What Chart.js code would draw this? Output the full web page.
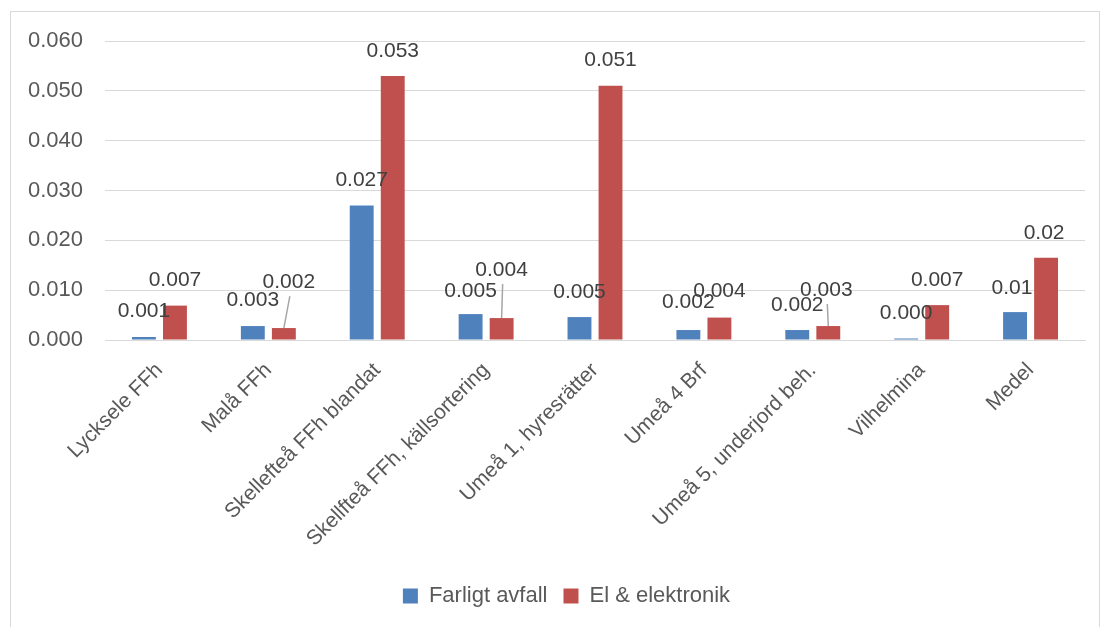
<!DOCTYPE html>
<html>
<head>
<meta charset="utf-8">
<script src="https://cdn.jsdelivr.net/npm/chart.js@4.4.0/dist/chart.umd.min.js"></script>
<style>
    html, body { margin: 0; padding: 0; background: #ffffff; }
    #wrap { position: relative; width: 1102px; height: 627px; }
</style>
</head>
<body>
<div id="wrap"><canvas id="chart"></canvas></div>
<script>
// Chart data
const categories = [
    'Lycksele FFh', 'Malå FFh', 'Skellefteå FFh blandat', 'Skellfteå FFh, källsortering',
    'Umeå 1, hyresrätter', 'Umeå 4 Brf', 'Umeå 5, underjord beh.', 'Vilhelmina', 'Medel'
];
const farligtAvfall = [0.0006, 0.0028, 0.027, 0.0052, 0.0046, 0.0020, 0.0020, 0.0003, 0.0056];
const elElektronik = [0.0069, 0.0024, 0.053, 0.0044, 0.051, 0.0045, 0.0028, 0.0070, 0.0165];
const farligtLabels = ['0.001', '0.003', '0.027', '0.005', '0.005', '0.002', '0.002', '0.000', '0.01'];
const elLabels = ['0.007', '0.002', '0.053', '0.004', '0.051', '0.004', '0.003', '0.007', '0.02'];
const yTicks = [0, 0.01, 0.02, 0.03, 0.04, 0.05, 0.06];

// label placement (offset from bar top), some moved with a leader line
const labelOffsets = [
    [[0, -26], [0, -26], [0, -25], [0, -23], [0, -25], [0, -28], [0, -25], [0, -25], [-3, -24]],
    [[0, -25], [5, -46], [0, -25], [0, -48], [0, -26], [0, -26], [-2, -36], [0, -25], [-2, -25]]
];
const leaderLines = [
    [false, false, false, false, false, false, false, false, false],
    [false, true, false, true, false, false, true, false, false]
];

const blue = '#4f81bd';
const red = '#c0504d';
const FONT = '"Liberation Sans", Arial, sans-serif';

const frame = {
    id: 'frame',
    beforeDraw(chart) {
        const ctx = chart.ctx;
        ctx.save();
        ctx.strokeStyle = '#d9d9d9';
        ctx.lineWidth = 1;
        ctx.strokeRect(10.5, 11.5, 1089, 630);
        ctx.restore();
    }
};

// nudge the legend a bit to the right, like the original
const legendShift = {
    id: 'legendShift',
    afterLayout(chart) {
        if (chart.legend) {
            chart.legend.left += 19;
            chart.legend.right += 19;
        }
    }
};

const barLabels = {
    id: 'barLabels',
    afterDatasetsDraw(chart) {
        const ctx = chart.ctx;
        const texts = [farligtLabels, elLabels];
        ctx.save();
        ctx.font = '21px ' + FONT;
        ctx.textAlign = 'center';
        ctx.textBaseline = 'middle';
        chart.data.datasets.forEach((ds, d) => {
            const meta = chart.getDatasetMeta(d);
            meta.data.forEach((bar, i) => {
                const off = labelOffsets[d][i];
                const tx = bar.x + off[0];
                const ty = bar.y + off[1];
                if (leaderLines[d][i]) {
                    ctx.strokeStyle = '#a6a6a6';
                    ctx.lineWidth = 1.5;
                    ctx.beginPath();
                    ctx.moveTo(tx + 1, ty + 14);
                    ctx.lineTo(bar.x, bar.y);
                    ctx.stroke();
                }
                ctx.fillStyle = '#404040';
                ctx.fillText(texts[d][i], tx, ty);
            });
        });
        ctx.restore();
    }
};

const ctx = document.getElementById('chart').getContext('2d');
const chart = new Chart(ctx, {
    type: 'bar',
    data: {
        labels: categories,
        datasets: [{
            label: 'Farligt avfall',
            data: farligtAvfall,
            backgroundColor: blue,
            categoryPercentage: 0.57,
            barPercentage: 0.77
        }, {
            label: 'El & elektronik',
            data: elElektronik,
            backgroundColor: red,
            categoryPercentage: 0.57,
            barPercentage: 0.77
        }]
    },
    options: {
        responsive: true,
        maintainAspectRatio: false,
        animation: false,
        layout: {
            padding: { top: 41, left: 10, right: 17, bottom: 10 }
        },
        scales: {
            y: {
                min: 0,
                max: 0.06,
                afterBuildTicks: scale => {
                    scale.ticks = yTicks.map(v => ({ value: v }));
                },
                afterFit: scale => {
                    scale.width = 95;
                },
                ticks: {
                    padding: 22,
                    color: '#595959',
                    font: { family: FONT, size: 22 },
                    callback: v => v.toFixed(3)
                },
                grid: { color: '#d9d9d9', lineWidth: 1, drawTicks: false },
                border: { display: false }
            },
            x: {
                afterFit: scale => {
                    scale.height = 229;
                },
                ticks: {
                    maxRotation: 45,
                    minRotation: 45,
                    autoSkip: false,
                    padding: 10,
                    color: '#595959',
                    font: { family: FONT, size: 21 }
                },
                grid: { display: false },
                border: { color: '#d9d9d9', width: 1 }
            }
        },
        plugins: {
            legend: {
                position: 'bottom',
                labels: {
                    boxWidth: 15,
                    boxHeight: 15,
                    padding: 16,
                    color: '#595959',
                    font: { family: FONT, size: 22 }
                }
            },
            tooltip: { enabled: false }
        }
    },
    plugins: [frame, legendShift, barLabels]
});
</script>
</body>
</html>
